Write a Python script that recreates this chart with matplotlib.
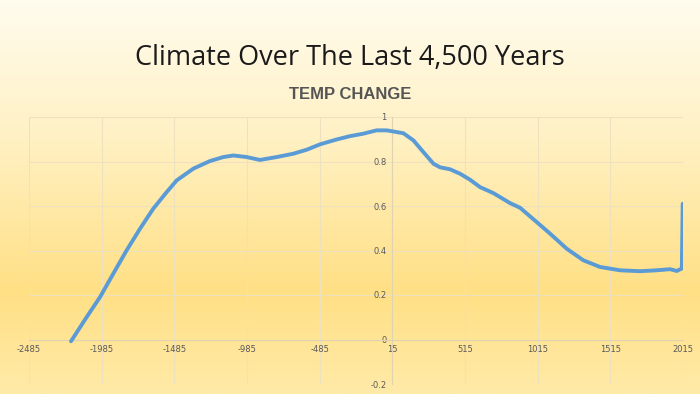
import matplotlib.pyplot as plt
import numpy as np
from matplotlib.colors import LinearSegmentedColormap

plt.rcParams["axes.unicode_minus"] = False

# values
years = [-2196, -2088, -1996, -1905, -1813, -1721, -1630, -1537, -1469, -1354,
         -1240, -1148, -1079, -987, -896, -781, -666, -574, -483, -368, -276,
         -185, -93, -24, 22, 91, 160, 229, 298, 343, 412, 481, 550, 618, 710,
         825, 894, 1008, 1100, 1215, 1329, 1444, 1582, 1720, 1834, 1926, 1972,
         2007, 2013]
temp = [-0.008, 0.101, 0.191, 0.296, 0.401, 0.498, 0.588, 0.663, 0.715, 0.768,
        0.802, 0.820, 0.827, 0.820, 0.807, 0.820, 0.835, 0.853, 0.877, 0.899,
        0.914, 0.925, 0.940, 0.940, 0.935, 0.927, 0.895, 0.842, 0.790, 0.774,
        0.765, 0.745, 0.718, 0.685, 0.658, 0.613, 0.592, 0.528, 0.476, 0.408,
        0.356, 0.326, 0.311, 0.307, 0.311, 0.316, 0.308, 0.319, 0.61]
xticks = [-2485, -1985, -1485, -985, -485, 15, 515, 1015, 1515, 2015]
yticks = [-0.2, 0, 0.2, 0.4, 0.6, 0.8, 1]
ylabels = ["-0.2", "0", "0.2", "0.4", "0.6", "0.8", "1"]

fig = plt.figure(figsize=(7, 3.94), dpi=100)

# background gradient, cream at the top to gold near the bottom
bg = fig.add_axes([0, 0, 1, 1], zorder=-1)
cmap = LinearSegmentedColormap.from_list(
    "bg", [(0, "#FFFCEE"), (0.35, "#FFF1C4"), (0.74, "#FFE085"), (1, "#FFEAA8")])
grad = np.linspace(0, 1, 256).reshape(-1, 1)
bg.imshow(grad, aspect="auto", cmap=cmap, extent=[0, 1, 0, 1], origin="upper")
bg.axis("off")

fig.text(0.5, 0.853, "Climate Over The Last 4,500 Years", ha="center", va="center",
         fontsize=19.5, color="#1a1a1a", family="Open Sans")
fig.text(0.5, 0.759, "TEMP CHANGE", ha="center", va="center", fontsize=12,
         color="#555555", fontweight="bold", family="Liberation Sans")

ax = fig.add_axes([29 / 700, 10 / 394, 654 / 700, 267 / 394])
ax.patch.set_alpha(0)
ax.plot(years, temp, color="#5B9BD5", lw=2.8, solid_capstyle="round",
        solid_joinstyle="round", zorder=3)

ax.set_xlim(-2485, 2015)
ax.set_ylim(-0.2, 1)
ax.set_xticks(xticks)
ax.set_yticks(yticks)
ax.set_yticklabels(ylabels)
ax.grid(True, color="#EDE1BE", lw=0.8)

ax.spines["left"].set_position(("data", 15))
ax.spines["bottom"].set_position(("data", 0))
ax.spines["left"].set_color("#E0D4B0")
ax.spines["bottom"].set_color("#E0D4B0")
ax.spines["top"].set_visible(False)
ax.spines["right"].set_visible(False)
ax.tick_params(length=0, labelsize=6, colors="#595959", pad=4)

fig.savefig("out.png", dpi=100)
